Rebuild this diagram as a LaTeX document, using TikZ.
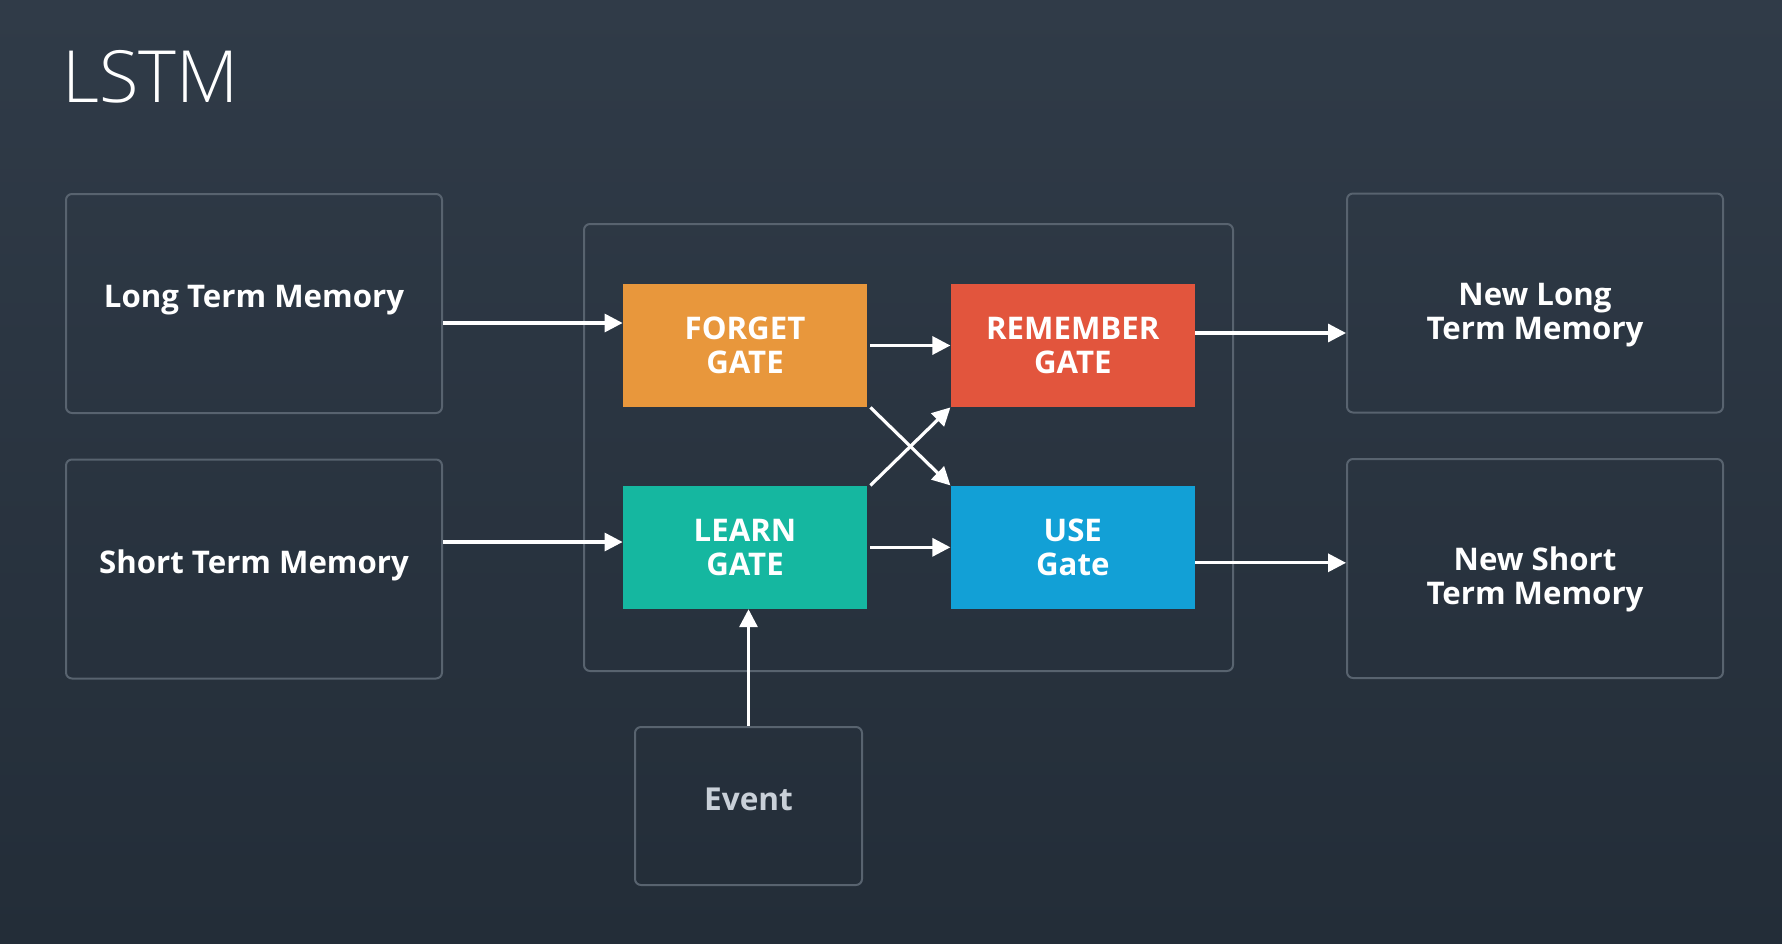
\documentclass[tikz,border=0pt]{standalone}
\usepackage{fontspec}
\setmainfont{Open Sans}
\newfontfamily\titlefont{Open Sans}[UprightFont={* Light}]
\usetikzlibrary{positioning,arrows.meta}
\definecolor{bgtop}{HTML}{303B48}
\definecolor{bgbot}{HTML}{232D38}
\definecolor{frame}{HTML}{58636F}
\definecolor{forgetc}{HTML}{E8973C}
\definecolor{rememberc}{HTML}{E2553D}
\definecolor{learnc}{HTML}{15B7A0}
\definecolor{usec}{HTML}{12A0D6}
\definecolor{eventtxt}{HTML}{C9D0D8}

\begin{document}
\begin{tikzpicture}[x=0.5pt, y=-0.5pt,
    memory/.style={draw=frame, line width=1pt, rounded corners=3pt,
        minimum width=188pt, minimum height=109.5pt, align=center,
        text=white, font=\bfseries\fontsize{15.6}{17}\selectfont},
    gate/.style={minimum width=122pt, minimum height=61.5pt, align=center,
        text=white, font=\bfseries\fontsize{15.6}{17}\selectfont},
    flow/.style={draw=white, line width=1.6pt,
        -{Triangle[length=9pt,width=9pt]}}
]
    % Background
    \fill[top color=bgtop, bottom color=bgbot] (0,0) rectangle (1782,943);
    \node[anchor=base west, inner sep=0pt, text=white,
        font=\titlefont\fontsize{36}{40}\selectfont
    ] (title) at (62,102) {LSTM};

    % Inputs
    \node [memory] (LongMem) at (254,303.5) {Long Term Memory\rule[-7.5pt]{0pt}{7.5pt}};
    \node [memory] (ShortMem) at (254,569) {Short Term Memory\rule[-7.5pt]{0pt}{7.5pt}};

    % Cell
    \node [draw=frame,
        line width=1pt,
        rounded corners=3pt,
        minimum width=324.5pt,
        minimum height=223.5pt
    ] (Cell) at (908.5,447.5) {};
    \node [gate, fill=forgetc] (Forget) at (745,345.5) {FORGET\\GATE};
    \node [gate, fill=rememberc,
        right=41.5pt of Forget
    ] (Remember) {REMEMBER\\GATE};
    \node [gate, fill=learnc,
        below=39pt of Forget
    ] (Learn) {LEARN\\GATE};
    \node [gate, fill=usec,
        right=41.5pt of Learn
    ] (Use) {USE\\Gate};

    % Outputs
    \node [memory] (NewLongMem) at (1535,303) {\rule{0pt}{23pt}New Long\\Term Memory};
    \node [memory] (NewShortMem) at (1535,568.5) {\rule{0pt}{23pt}New Short\\Term Memory};
    \node [memory,
        minimum width=113.5pt,
        minimum height=79pt,
        text=eventtxt,
        font=\bfseries\fontsize{15.8}{17}\selectfont
    ] (Event) at (748.5,806) {Event\rule[-7pt]{0pt}{7pt}};

    % Arrows
    \draw[flow] ([yshift=-9.75pt]LongMem.east)
        -- ([yshift=-9.75pt]LongMem.east -| Forget.west);
    \draw[flow] ([yshift=13.5pt]ShortMem.east)
        -- ([yshift=13.5pt]ShortMem.east -| Learn.west);
    \draw[flow] ([xshift=1.5pt]Forget.east) -- (Remember.west);
    \draw[flow] ([xshift=1.5pt]Learn.east) -- (Use.west);
    \draw[flow] ([xshift=1.5pt]Forget.south east) -- (Use.north west);
    \draw[flow] ([xshift=1.5pt]Learn.north east) -- (Remember.south west);
    \draw[flow] ([yshift=6.25pt]Remember.east)
        -- ([yshift=6.25pt]Remember.east -| NewLongMem.west);
    \draw[flow] ([yshift=-7.75pt]Use.east)
        -- ([yshift=-7.75pt]Use.east -| NewShortMem.west);
    \draw[flow] (Event.north) -- (Event.north |- Learn.south);
\end{tikzpicture}
\end{document}
